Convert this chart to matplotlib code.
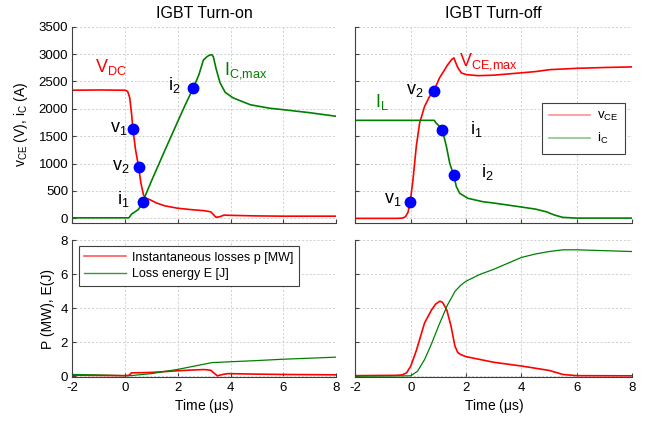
import numpy as np
import matplotlib
matplotlib.use('Agg')
import matplotlib.pyplot as plt
from matplotlib.lines import Line2D

plt.rcParams['font.family'] = ['Liberation Sans', 'DejaVu Sans']
plt.rcParams['mathtext.fontset'] = 'custom'
plt.rcParams['mathtext.rm'] = 'Liberation Sans'
plt.rcParams['mathtext.it'] = 'Liberation Sans'
plt.rcParams['mathtext.bf'] = 'Liberation Sans'
plt.rcParams['axes.unicode_minus'] = False

# ---- turn-on, voltage and current
on_t_v = [-2, -1, 0.0, 0.1, 0.18, 0.25, 0.3, 0.4, 0.52, 0.6, 0.7, 0.8, 0.95, 1.2, 1.5,
          2.0, 2.5, 3.0, 3.25, 3.35, 3.45, 3.6, 3.75, 4.0, 5.0, 6.0, 8.0]
on_v = [2340, 2345, 2340, 2320, 2200, 1900, 1630, 1250, 930, 650, 430, 365, 340, 280, 230,
        185, 160, 140, 120, 70, 20, 30, 60, 55, 45, 40, 40]
on_t_i = [-2, 0.15, 0.25, 0.35, 0.5, 0.6, 0.67, 0.8, 1.0, 1.5, 2.0, 2.3, 2.59, 2.8, 2.97,
          3.1, 3.2, 3.29, 3.35, 3.45, 3.6, 3.8, 4.1, 4.75, 5.5, 6.0, 7.0, 8.0]
on_i = [10, 10, 80, 110, 160, 230, 304, 450, 680, 1230, 1770, 2090, 2381, 2620, 2890,
        2950, 2980, 2990, 2950, 2740, 2480, 2300, 2200, 2075, 2010, 1985, 1930, 1865]
on_pts_t = [0.29, 0.52, 0.67, 2.59]
on_pts_y = [1635, 934, 304, 2381]

# ---- turn-off, voltage and current
off_t_v = [-2, -0.5, -0.3, -0.19, -0.1, -0.02, 0.08, 0.2, 0.32, 0.5, 0.68, 0.84, 1.04,
           1.34, 1.48, 1.56, 1.63, 1.71, 1.83, 2.01, 2.43, 3.0, 3.94, 4.5, 5.03, 6.0, 7.0, 8.0]
off_v = [0, 0, 5, 30, 110, 293, 701, 1312, 1740, 2044, 2227, 2332, 2564,
         2808, 2900, 2930, 2840, 2747, 2656, 2625, 2606, 2615, 2655, 2680, 2716, 2740, 2755, 2766]
off_t_i = [-2, 0.85, 0.92, 1.0, 1.14, 1.29, 1.41, 1.55, 1.65, 1.77, 2.07, 2.61, 3.0, 3.94,
           4.5, 4.9, 5.2, 5.5, 6.0, 8.0]
off_i = [1790, 1790, 1740, 1700, 1617, 1312, 1007, 793, 579, 458, 366, 304, 280, 212,
         170, 121, 60, 18, 5, 5]
off_pts_t = [-0.02, 0.84, 1.14, 1.55]
off_pts_y = [293, 2332, 1617, 793]

# ---- losses
on_t_p = [-2, 0.0, 0.15, 0.25, 0.5, 1.0, 2.0, 2.5, 3.0, 3.25, 3.4, 3.5, 3.7, 3.9, 5.0, 6.0, 8.0]
on_p = [0.06, 0.03, 0.05, 0.2, 0.2, 0.22, 0.32, 0.36, 0.39, 0.35, 0.15, 0.02, 0.1, 0.15, 0.12, 0.1, 0.08]
on_t_e = [-2, -1, 0.0, 0.2, 1.0, 2.0, 3.3, 4.0, 5.0, 6.0, 7.0, 8.0]
on_e = [0.1, 0.07, 0.03, 0.03, 0.15, 0.4, 0.8, 0.85, 0.92, 1.0, 1.06, 1.12]

off_t_p = [-2, -0.5, -0.3, -0.15, 0.0, 0.2, 0.5, 0.75, 0.9, 1.05, 1.15, 1.3, 1.45, 1.6, 1.7,
           1.8, 2.0, 3.0, 4.0, 5.0, 5.3, 5.5, 6.0, 8.0]
off_p = [0.03, 0.05, 0.08, 0.2, 0.59, 1.5, 3.14, 3.9, 4.25, 4.42, 4.35, 3.92, 3.0, 1.76, 1.4,
         1.28, 1.15, 0.82, 0.6, 0.34, 0.2, 0.1, 0.03, 0.02]
off_t_e = [-2, 0.0, 0.25, 0.5, 0.75, 1.0, 1.33, 1.6, 1.8, 2.0, 2.5, 3.0, 3.5, 4.0, 4.5, 5.0,
           5.5, 6.0, 7.0, 8.0]
off_e = [0, 0.02, 0.3, 0.98, 1.9, 2.94, 4.2, 5.0, 5.35, 5.6, 6.0, 6.3, 6.65, 7.0, 7.2, 7.35,
         7.45, 7.45, 7.4, 7.35]

RED = '#ff0000'
GREEN = '#008000'
BLUE = '#0000ff'

fig = plt.figure(figsize=(6.57, 4.24), dpi=100)
ax1 = fig.add_axes([0.110, 0.474, 0.4014, 0.463])
ax2 = fig.add_axes([0.541, 0.474, 0.4209, 0.463])
ax3 = fig.add_axes([0.110, 0.1116, 0.4014, 0.3212])
ax4 = fig.add_axes([0.541, 0.1116, 0.4209, 0.3212])


def style(ax):
    for s in ['top', 'right']:
        ax.spines[s].set_visible(False)
    for s in ['left', 'bottom']:
        ax.spines[s].set_color('#404040')
        ax.spines[s].set_linewidth(0.8)
    ax.tick_params(direction='in', length=3, color='#404040', labelsize=9.5, pad=3)
    ax.tick_params(axis='x', pad=4)
    ax.grid(True, color='#cfcfcf', linestyle=(0, (2, 2)), linewidth=0.7)
    ax.set_axisbelow(True)
    ax.set_xlim(-2, 8)
    ax.set_xticks([-2, 0, 2, 4, 6, 8])


for ax in [ax1, ax2, ax3, ax4]:
    style(ax)

# top-left
ax1.plot(on_t_v, on_v, color=RED, lw=1.2)
ax1.plot(on_t_i, on_i, color=GREEN, lw=1.2)
ax1.plot(on_pts_t, on_pts_y, 'o', color=BLUE, ms=7.5, zorder=5)
ax1.set_ylim(-85, 3500)
ax1.set_yticks(np.arange(0, 3501, 500))
ax1.set_xticklabels([])
ax1.set_ylabel(r'v$_{\mathregular{CE}}$ (V), i$_{\mathregular{C}}$ (A)', fontsize=10, labelpad=6)
ax1.set_title('IGBT Turn-on', fontsize=11.5, pad=6)
ax1.text(-1.13, 2675, r'$\mathregular{V_{DC}}$', color=RED, fontsize=13)
ax1.text(3.77, 2625, r'$\mathregular{I_{C{,}max}}$', color=GREEN, fontsize=13)
ax1.text(-0.56, 1586, r'$\mathregular{v_{1}}$', fontsize=13)
ax1.text(-0.49, 885, r'$\mathregular{v_{2}}$', fontsize=13)
ax1.text(-0.29, 262, r'$\mathregular{i_{1}}$', fontsize=13)
ax1.text(1.64, 2337, r'$\mathregular{i_{2}}$', fontsize=13)

# top-right
ax2.plot(off_t_v, off_v, color=RED, lw=1.2)
ax2.plot(off_t_i, off_i, color=GREEN, lw=1.2)
ax2.plot(off_pts_t, off_pts_y, 'o', color=BLUE, ms=7.5, zorder=5)
ax2.set_ylim(-85, 3500)
ax2.set_yticks(np.arange(0, 3501, 500))
ax2.set_xticklabels([])
ax2.set_yticklabels([])
ax2.set_title('IGBT Turn-off', fontsize=11.5, pad=6)
ax2.text(1.74, 2790, r'$\mathregular{V_{CE{,}max}}$', color=RED, fontsize=13)
ax2.text(-0.16, 2276, r'$\mathregular{v_{2}}$', fontsize=13)
ax2.text(-1.31, 2038, r'$\mathregular{I_{L}}$', color=GREEN, fontsize=13)
ax2.text(2.13, 1544, r'$\mathregular{i_{1}}$', fontsize=13)
ax2.text(2.55, 751, r'$\mathregular{i_{2}}$', fontsize=13)
ax2.text(-0.97, 275, r'$\mathregular{v_{1}}$', fontsize=13)
h = [Line2D([], [], color='#ff9a9a', lw=1.3), Line2D([], [], color='#96c896', lw=1.3)]
leg = ax2.legend(h, [r'v$_{\mathregular{CE}}$', r'i$_{\mathregular{C}}$'], loc='upper right',
                 bbox_to_anchor=(0.975, 0.613), borderaxespad=0, fontsize=9.5,
                 fancybox=False, framealpha=1, edgecolor='#404040', handlelength=3.1,
                 handletextpad=0.5, borderpad=0.55, labelspacing=0.6)
leg.get_frame().set_linewidth(0.8)

# bottom-left
ax3.plot(on_t_p, on_p, color=RED, lw=1.2)
ax3.plot(on_t_e, on_e, color=GREEN, lw=0.9)
ax3.set_ylim(-0.03, 8)
ax3.set_yticks([0, 2, 4, 6, 8])
ax3.set_ylabel('P (MW), E(J)', fontsize=10, labelpad=4)
ax3.set_xlabel(r'Time ($\mathregular{\mu}$s)', fontsize=10, labelpad=2)
h = [Line2D([], [], color='#ff5a5a', lw=1.2), Line2D([], [], color='#3a963a', lw=1.0)]
leg = ax3.legend(h, ['Instantaneous losses p [MW]', 'Loss energy E [J]'], loc='upper left',
                 bbox_to_anchor=(0.025, 0.96), borderaxespad=0, fontsize=9,
                 fancybox=False, framealpha=1, edgecolor='#404040', handlelength=3.3,
                 handletextpad=0.5, borderpad=0.45, labelspacing=0.35)
leg.get_frame().set_linewidth(0.8)

# bottom-right
ax4.plot(off_t_p, off_p, color=RED, lw=1.2)
ax4.plot(off_t_e, off_e, color=GREEN, lw=0.9)
ax4.set_ylim(-0.03, 8)
ax4.set_yticks([0, 2, 4, 6, 8])
ax4.set_yticklabels([])
ax4.set_xlabel(r'Time ($\mathregular{\mu}$s)', fontsize=10, labelpad=2)

fig.savefig('out.png', dpi=100)
